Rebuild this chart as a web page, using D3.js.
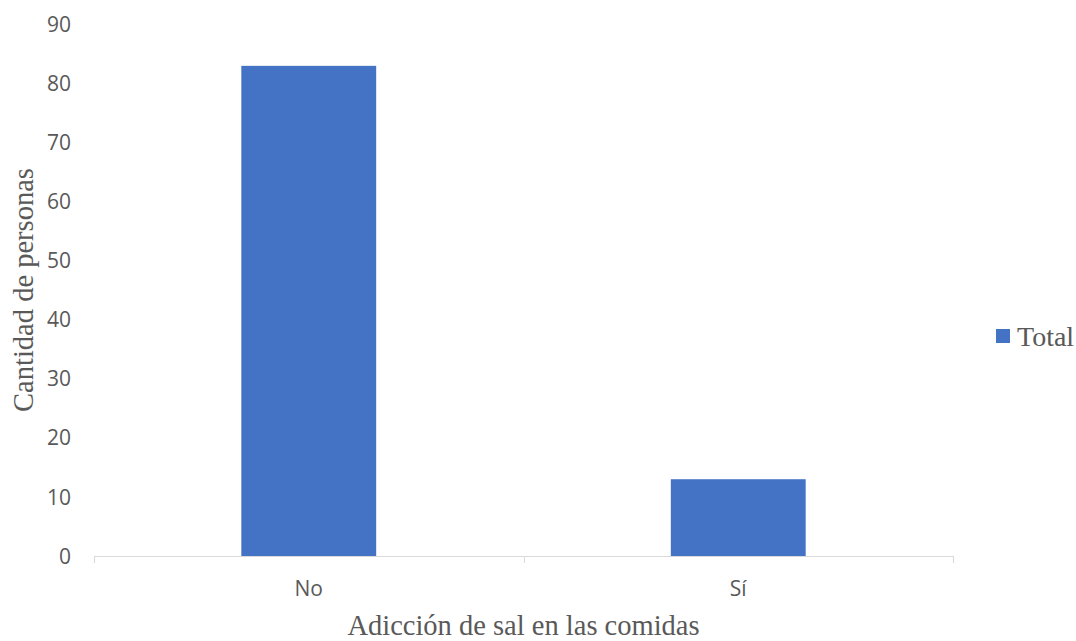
<!DOCTYPE html>
<html>
<head>
<meta charset="utf-8">
<script src="https://cdn.jsdelivr.net/npm/d3@7"></script>
<style>
  html, body { margin: 0; padding: 0; background: #fff; }
  svg { display: block; }
</style>
</head>
<body>
<svg id="chart" width="1076" height="641"></svg>
<script>
const categories = ["No", "Sí"];
const totals = [83, 13];
const yTicks = [0, 10, 20, 30, 40, 50, 60, 70, 80, 90];
const seriesName = "Total";

const svg = d3.select("#chart");
const plotLeft = 94, plotRight = 953, plotTop = 24.5, plotBottom = 556;
const barColor = "#4472C4";
const textColor = "#595959";
const sans = "'Open Sans', 'Noto Sans', sans-serif";
const serif = "'Liberation Serif', 'Times New Roman', serif";

const x = d3.scaleBand().domain(categories).range([plotLeft, plotRight])
  .paddingInner(0.686).paddingOuter(0.343);
const y = d3.scaleLinear().domain([0, 90]).range([plotBottom, plotTop]);

// bars
svg.append("g").selectAll("rect")
  .data(categories)
  .join("rect")
  .attr("x", d => x(d))
  .attr("width", x.bandwidth())
  .attr("y", (d, i) => y(totals[i]))
  .attr("height", (d, i) => y(0) - y(totals[i]))
  .attr("fill", barColor);

// x axis line with category separators
const step = (plotRight - plotLeft) / categories.length;
const xAxis = svg.append("g");
xAxis.append("line")
  .attr("x1", plotLeft).attr("x2", plotRight)
  .attr("y1", plotBottom + 0.5).attr("y2", plotBottom + 0.5)
  .attr("stroke", "#d9d9d9").attr("stroke-width", 1);
d3.range(categories.length + 1).forEach(i => {
  const xx = Math.round(plotLeft + i * step) + 0.5;
  xAxis.append("line")
    .attr("x1", xx).attr("x2", xx)
    .attr("y1", plotBottom).attr("y2", plotBottom + 7)
    .attr("stroke", "#d9d9d9").attr("stroke-width", 1);
});
xAxis.selectAll("text.cat")
  .data(categories)
  .join("text")
  .attr("class", "cat")
  .attr("x", d => x(d) + x.bandwidth() / 2)
  .attr("y", 596)
  .attr("text-anchor", "middle")
  .attr("font-family", sans)
  .attr("font-size", 21)
  .attr("fill", textColor)
  .text(d => d);

// y tick labels
svg.append("g").selectAll("text")
  .data(yTicks)
  .join("text")
  .attr("x", 71)
  .attr("y", d => y(d))
  .attr("dy", "0.36em")
  .attr("text-anchor", "end")
  .attr("font-family", sans)
  .attr("font-size", 21)
  .attr("fill", textColor)
  .text(d => d);

// axis titles
svg.append("text")
  .attr("transform", "translate(33, 290) rotate(-90)")
  .attr("text-anchor", "middle")
  .attr("font-family", serif)
  .attr("font-size", 28.5)
  .attr("fill", textColor)
  .text("Cantidad de personas");

svg.append("text")
  .attr("x", (plotLeft + plotRight) / 2)
  .attr("y", 635)
  .attr("text-anchor", "middle")
  .attr("font-family", serif)
  .attr("font-size", 28.5)
  .attr("fill", textColor)
  .text("Adicción de sal en las comidas");

// legend
const legend = svg.append("g").attr("transform", "translate(996, 329)");
legend.append("rect").attr("width", 14).attr("height", 14).attr("fill", barColor);
legend.append("text")
  .attr("x", 21).attr("y", 7)
  .attr("dy", "0.35em")
  .attr("font-family", serif)
  .attr("font-size", 28)
  .attr("fill", textColor)
  .text(seriesName);
</script>
</body>
</html>
